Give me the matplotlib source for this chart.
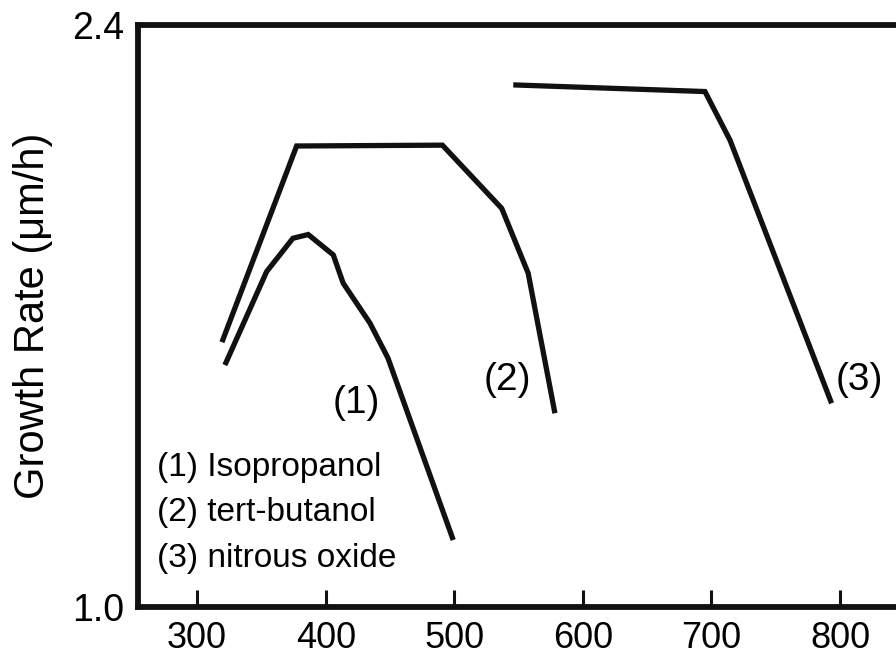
import matplotlib
matplotlib.use("Agg")
import matplotlib.pyplot as plt

# Data
iso_x = [321.6, 354.1, 374.5, 386.4, 405.9, 413.6, 434.4, 448.4, 499.2]
iso_y = [1.582, 1.807, 1.887, 1.896, 1.847, 1.779, 1.683, 1.599, 1.161]

tbu_x = [319.3, 377.4, 490.8, 536.9, 557.5, 578.3]
tbu_y = [1.637, 2.109, 2.111, 1.959, 1.803, 1.466]

n2o_x = [545.9, 695.0, 714.5, 793.5]
n2o_y = [2.256, 2.240, 2.123, 1.490]

x_ticks = [300, 400, 500, 600, 700, 800]
y_ticks = [1.0, 2.4]
legend_lines = ["(1) Isopropanol", "(2) tert-butanol", "(3) nitrous oxide"]
curve_tags = ["(1)", "(2)", "(3)"]
tag_pos_x = [424, 541, 815]
tag_pos_y = [1.490, 1.546, 1.546]

plt.rcParams['font.family'] = ['Liberation Sans', 'DejaVu Sans']

fig = plt.figure(figsize=(8.96, 6.59), dpi=100)
ax = fig.add_axes([0.154, 0.079, 0.846, 0.883])

for xs, ys in [(iso_x, iso_y), (tbu_x, tbu_y), (n2o_x, n2o_y)]:
    ax.plot(xs, ys, color='#111111', lw=3.8, solid_joinstyle='miter', solid_capstyle='butt')

ax.set_xlim(254, 843.6)
ax.set_ylim(1.0, 2.4)
ax.set_xticks(x_ticks)
ax.set_xticklabels([str(t) for t in x_ticks])
ax.set_yticks(y_ticks)
ax.set_yticklabels(["1.0", "2.4"])

for s in ['left', 'bottom', 'top']:
    ax.spines[s].set_linewidth(4.2)
    ax.spines[s].set_color('#111111')
ax.spines['right'].set_visible(False)

ax.tick_params(axis='x', direction='in', length=12, width=2.2, color='#111111',
               labelsize=26, pad=10)
ax.tick_params(axis='y', length=0, labelsize=27, pad=10)

ax.set_ylabel("Growth Rate (μm/h)", fontsize=30, labelpad=14)

for t, x, y in zip(curve_tags, tag_pos_x, tag_pos_y):
    ax.text(x, y, t, fontsize=28, ha='center', va='center')

for i, line in enumerate(legend_lines):
    ax.text(0.025, 0.24 - i * 0.078, line, transform=ax.transAxes,
            fontsize=24, ha='left', va='center')

fig.savefig("out.png", dpi=100)
